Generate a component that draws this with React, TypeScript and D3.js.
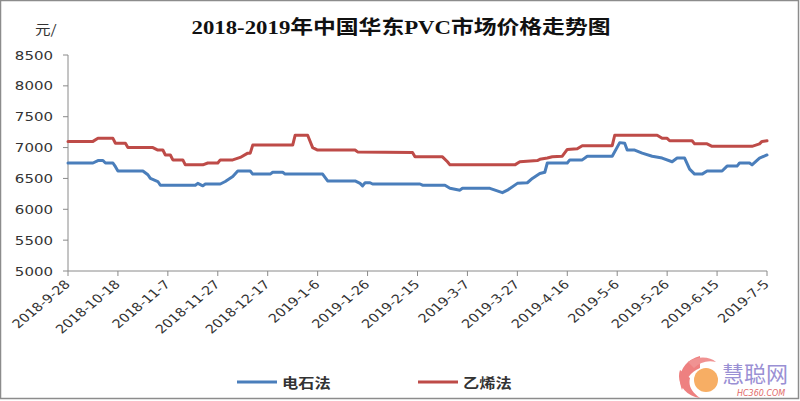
import React from "react";
import * as d3 from "d3";

const title = "2018-2019年中国华东PVC市场价格走势图";
const unitLabel = "元/";
const yTicks = [5000, 5500, 6000, 6500, 7000, 7500, 8000, 8500];
const xTickLabels = [
  "2018-9-28", "2018-10-18", "2018-11-7", "2018-11-27", "2018-12-17",
  "2019-1-6", "2019-1-26", "2019-2-15", "2019-3-7", "2019-3-27",
  "2019-4-16", "2019-5-6", "2019-5-26", "2019-6-15", "2019-7-5",
];
const seriesNames = ["电石法", "乙烯法"];

// 电石法 (calcium carbide process)
const carbide: [string, number][] = [
  ["2018-9-28", 6750], ["2018-10-8", 6750], ["2018-10-10", 6790], ["2018-10-12", 6790],
  ["2018-10-13", 6750], ["2018-10-16", 6750], ["2018-10-17", 6690], ["2018-10-18", 6620],
  ["2018-10-28", 6620], ["2018-10-30", 6560], ["2018-10-31", 6500], ["2018-11-3", 6450],
  ["2018-11-4", 6390], ["2018-11-18", 6390], ["2018-11-19", 6420], ["2018-11-21", 6380],
  ["2018-11-22", 6410], ["2018-11-28", 6410], ["2018-11-30", 6450], ["2018-12-3", 6530],
  ["2018-12-5", 6620], ["2018-12-10", 6620], ["2018-12-11", 6570], ["2018-12-18", 6570],
  ["2018-12-19", 6600], ["2018-12-23", 6600], ["2018-12-24", 6570], ["2019-1-8", 6570],
  ["2019-1-10", 6460], ["2019-1-21", 6460], ["2019-1-23", 6420], ["2019-1-24", 6380],
  ["2019-1-25", 6430], ["2019-1-27", 6430], ["2019-1-28", 6410], ["2019-2-16", 6410],
  ["2019-2-17", 6390], ["2019-2-26", 6390], ["2019-2-28", 6340], ["2019-3-4", 6310],
  ["2019-3-5", 6340], ["2019-3-16", 6340], ["2019-3-21", 6270], ["2019-3-23", 6310],
  ["2019-3-27", 6420], ["2019-3-31", 6430], ["2019-4-2", 6500], ["2019-4-5", 6580],
  ["2019-4-7", 6600], ["2019-4-8", 6750], ["2019-4-16", 6750], ["2019-4-17", 6800],
  ["2019-4-22", 6800], ["2019-4-24", 6860], ["2019-5-4", 6860], ["2019-5-7", 7080],
  ["2019-5-9", 7070], ["2019-5-10", 6960], ["2019-5-13", 6960], ["2019-5-16", 6910],
  ["2019-5-20", 6860], ["2019-5-24", 6830], ["2019-5-28", 6770], ["2019-5-30", 6830],
  ["2019-6-2", 6830], ["2019-6-4", 6650], ["2019-6-5", 6610], ["2019-6-6", 6570],
  ["2019-6-9", 6570], ["2019-6-11", 6620], ["2019-6-17", 6620], ["2019-6-19", 6700],
  ["2019-6-23", 6700], ["2019-6-24", 6750], ["2019-6-28", 6750], ["2019-6-29", 6720],
  ["2019-7-2", 6830], ["2019-7-5", 6880],
];

// 乙烯法 (ethylene process)
const ethylene: [string, number][] = [
  ["2018-9-28", 7100], ["2018-10-8", 7100], ["2018-10-10", 7150], ["2018-10-16", 7150],
  ["2018-10-17", 7070], ["2018-10-21", 7070], ["2018-10-22", 7000], ["2018-11-1", 7000],
  ["2018-11-3", 6960], ["2018-11-5", 6960], ["2018-11-6", 6880], ["2018-11-8", 6880],
  ["2018-11-9", 6800], ["2018-11-13", 6800], ["2018-11-14", 6720], ["2018-11-21", 6720],
  ["2018-11-23", 6750], ["2018-11-27", 6750], ["2018-11-28", 6800], ["2018-12-3", 6800],
  ["2018-12-6", 6840], ["2018-12-9", 6910], ["2018-12-10", 6910], ["2018-12-11", 7040],
  ["2018-12-27", 7040], ["2018-12-28", 7200], ["2019-1-2", 7200], ["2019-1-4", 7000],
  ["2019-1-6", 6960], ["2019-1-21", 6960], ["2019-1-22", 6930], ["2019-2-13", 6920],
  ["2019-2-14", 6850], ["2019-2-25", 6850], ["2019-2-27", 6770], ["2019-2-28", 6720],
  ["2019-3-26", 6720], ["2019-3-28", 6770], ["2019-4-4", 6790], ["2019-4-5", 6810],
  ["2019-4-8", 6830], ["2019-4-10", 6850], ["2019-4-14", 6860], ["2019-4-16", 6970],
  ["2019-4-20", 6980], ["2019-4-22", 7030], ["2019-5-4", 7030], ["2019-5-5", 7200],
  ["2019-5-22", 7200], ["2019-5-24", 7150], ["2019-5-26", 7150], ["2019-5-27", 7110],
  ["2019-6-5", 7110], ["2019-6-6", 7060], ["2019-6-11", 7060], ["2019-6-13", 7020],
  ["2019-6-29", 7020], ["2019-7-2", 7060], ["2019-7-3", 7100], ["2019-7-5", 7110],
];

const colors = ["#4a7ebb", "#be4b48"];

const W = 800;
const H = 401;
const M = { left: 68, right: 767, top: 55, bottom: 271 };
const SX = 1.2;

export default function App() {
  const parse = d3.utcParse("%Y-%m-%d");
  const x = d3
    .scaleUtc()
    .domain([parse(xTickLabels[0])!, parse(xTickLabels[xTickLabels.length - 1])!])
    .range([M.left, M.right]);
  const y = d3.scaleLinear().domain([5000, 8500]).range([M.bottom, M.top]);
  const line = d3
    .line<[string, number]>()
    .x((d) => x(parse(d[0])!))
    .y((d) => y(d[1]));

  const axisColor = "#8a8a8a";
  const textColor = "#333333";
  const sans = "'DejaVu Sans', sans-serif";

  return (
    <svg
      width={W}
      height={H}
      style={{ position: "absolute", left: 0, top: 0, background: "#fff" }}
    >
      <rect x={0} y={0} width={W} height={H} fill="#fff" />
      <rect x={0.5} y={0.5} width={W - 2} height={H - 3} fill="none" stroke="#8c8c8c" strokeWidth={1.5} />

      {/* title */}
      <text
        transform={`translate(401,34) scale(1.2,1)`}
        textAnchor="middle"
        fontFamily="'Liberation Serif', 'Noto Sans CJK SC', serif"
        fontWeight="bold"
        fontSize={19}
        fill="#111"
      >
        {title}
      </text>
      <text
        transform="translate(35,34) scale(1.2,1)"
        fontFamily="'Noto Sans CJK SC', sans-serif"
        fontSize={13}
        fill={textColor}
      >
        {unitLabel}
      </text>

      {/* y axis */}
      <line x1={M.left} x2={M.left} y1={M.top} y2={M.bottom} stroke={axisColor} strokeWidth={1} />
      {yTicks.map((t) => (
        <g key={t}>
          <line x1={M.left - 5} x2={M.left} y1={y(t)} y2={y(t)} stroke={axisColor} />
          <text
            transform={`translate(${M.left - 15},${y(t) + 4.5}) scale(${SX},1)`}
            textAnchor="end"
            fontFamily={sans}
            fontSize={12.5}
            fill={textColor}
          >
            {t}
          </text>
        </g>
      ))}

      {/* x axis */}
      <line x1={M.left} x2={M.right} y1={M.bottom} y2={M.bottom} stroke={axisColor} strokeWidth={1} />
      {xTickLabels.map((lab) => {
        const xx = x(parse(lab)!);
        return (
          <g key={lab}>
            <line x1={xx} x2={xx} y1={M.bottom} y2={M.bottom + 5} stroke={axisColor} />
            <text
              transform={`translate(${xx + 3},${M.bottom + 14}) scale(${SX},1) rotate(-45)`}
              textAnchor="end"
              fontFamily={sans}
              fontSize={12}
              fill={textColor}
            >
              {lab}
            </text>
          </g>
        );
      })}

      {/* series */}
      {[carbide, ethylene].map((s, i) => (
        <path
          key={i}
          d={line(s) ?? ""}
          fill="none"
          stroke={colors[i]}
          strokeWidth={3}
          strokeLinejoin="round"
          strokeLinecap="round"
        />
      ))}

      {/* legend */}
      {seriesNames.map((n, i) => {
        const lx = i === 0 ? 237 : 418;
        return (
          <g key={n}>
            <line x1={lx} x2={lx + 40} y1={382} y2={382} stroke={colors[i]} strokeWidth={3} />
            <text
              transform={`translate(${lx + 45},387.5) scale(${SX},1)`}
              fontFamily="'Noto Sans CJK SC', sans-serif"
              fontWeight="bold"
              fontSize={13.5}
              fill={textColor}
            >
              {n}
            </text>
          </g>
        );
      })}

      {/* watermark logo */}
      <g opacity={0.85}>
        <path d="M700,356 C684,360 676,374 682,390 C686,380 690,372 700,368 Z" fill="#ec6b6b" />
        <path d="M680,370 C676,382 684,396 700,398 C692,392 688,386 690,378 Z" fill="#ec6b6b" />
        <path d="M688,362 C696,356 710,356 716,362 C708,360 700,362 694,368 Z" fill="#ee8080" />
        <circle cx={706} cy={380} r={12} fill="#f6a04a" />
      </g>
      <text
        x={722}
        y={382}
        fontFamily="'Noto Sans CJK SC', sans-serif"
        fontSize={22}
        fill="#8f84d0"
        opacity={0.9}
      >
        慧聪网
      </text>
      <text
        x={737}
        y={396}
        fontFamily="'DejaVu Sans', sans-serif"
        fontStyle="italic"
        fontSize={8}
        fill="#e26b6b"
      >
        HC360.COM
      </text>
    </svg>
  );
}
